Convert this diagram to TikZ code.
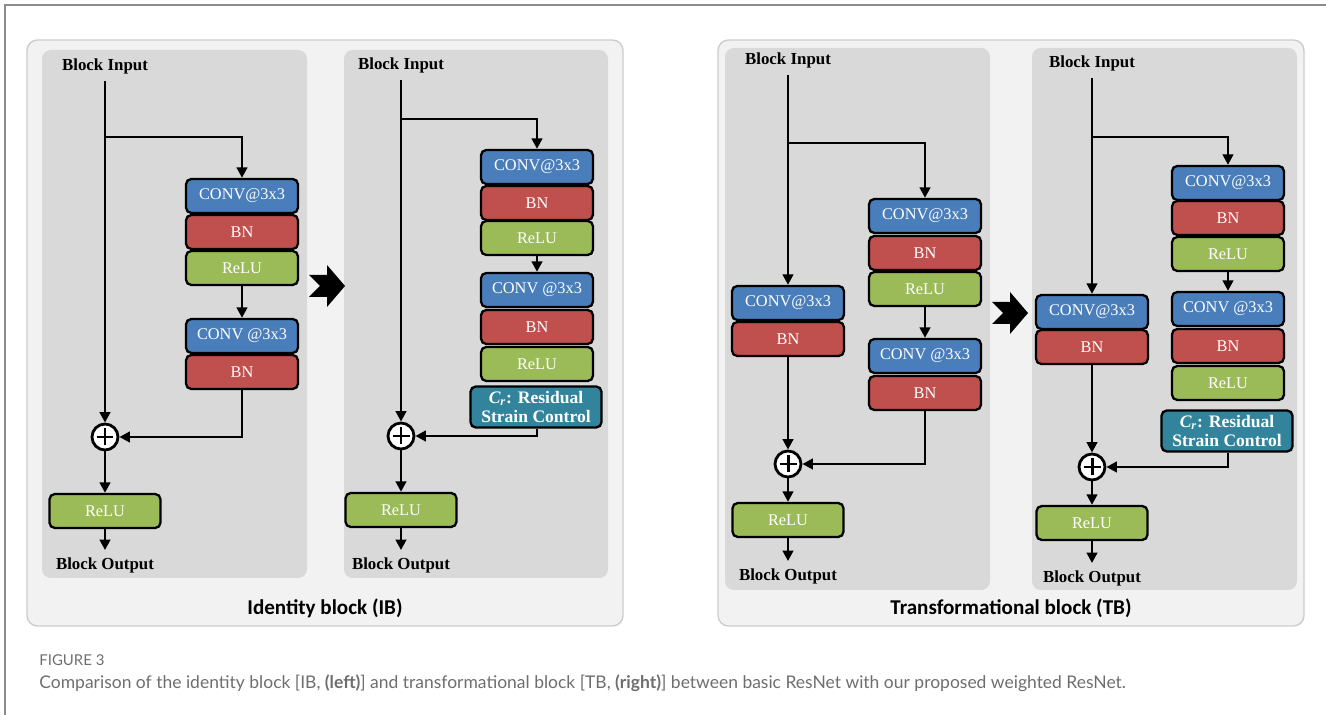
\documentclass[tikz,border=0pt]{standalone}
\usepackage{fontspec}
\setmainfont{Liberation Serif}
\newfontfamily\capfont{Lato}
\newfontfamily\titlefont{Carlito}
\usetikzlibrary{arrows.meta,positioning}
\definecolor{convblue}{HTML}{4A7EBB}
\definecolor{bnred}{HTML}{C0504D}
\definecolor{relugreen}{HTML}{9BBB59}
\definecolor{crteal}{HTML}{31849B}
\definecolor{outerbg}{HTML}{F2F2F2}
\definecolor{innerbg}{HTML}{D9D9D9}
\definecolor{capgray}{HTML}{6E6E6E}

\begin{document}
\begin{tikzpicture}[x=0.02cm, y=-0.02cm, >={Triangle[length=6pt,width=6pt]}, line width=1.6pt,
      outer/.style={draw=gray!40, line width=0.8pt, fill=outerbg, rounded corners=6pt},
      inner/.style={fill=innerbg, rounded corners=5pt},
      layer/.style={draw, line width=1.3pt, rounded corners=3pt, text=white, minimum width=2.24cm,
                    minimum height=0.68cm, inner sep=0pt, font=\fontsize{9.3}{11}\selectfont},
      conv/.style={layer, fill=convblue},
      bn/.style={layer, fill=bnred},
      relu/.style={layer, fill=relugreen},
      crbox/.style={layer, fill=crteal, minimum width=2.62cm, minimum height=0.82cm, align=center,
                    font=\bfseries\fontsize{10}{11}\selectfont},
      io/.style={font=\bfseries\fontsize{9.6}{11}\selectfont},
      add/.style={circle, draw, fill=white, minimum size=0.52cm, inner sep=0pt,
                  path picture={\draw[line width=1.7pt]
                    ([xshift=-0.17cm]path picture bounding box.center) -- ([xshift=0.17cm]path picture bounding box.center)
                    ([yshift=-0.17cm]path picture bounding box.center) -- ([yshift=0.17cm]path picture bounding box.center);}},
      title/.style={font=\titlefont\bfseries\fontsize{12}{14}\selectfont}]
  \useasboundingbox (0,0) rectangle (1326,715);
  % page frame
  \draw[gray!90, line width=1pt] (5,715) -- (5,5) -- (1326,5);
  % panels
  \path[outer] (27,40) rectangle (623,626);
  \path[outer] (718,40) rectangle (1304,626);
  \fill[inner] (42,50) rectangle (307,578);
  \fill[inner] (344,50) rectangle (608,578);
  \fill[inner] (725,48) rectangle (990,590);
  \fill[inner] (1032,48) rectangle (1297,590);
  \node[title] (ibt) at (325,608) {Identity block (IB)};
  \node[title] (tbt) at (1011,608) {Transformational block (TB)};

  % identity block, basic
  \node[io] (in1) at (105,66) {Block Input};
  \coordinate (s1) at (105,137);
  \node[conv] (c1a) at (242,196) {CONV@3x3};
  \node[bn]   (b1a) at (242,232) {BN};
  \node[relu] (r1a) at (242,268) {ReLU};
  \node[conv] (c1b) at (242,336) {CONV @3x3};
  \node[bn]   (b1b) at (242,372) {BN};
  \node[add]  (add1) at (105,437) {};
  \node[relu, minimum width=2.22cm] (o1) at (105,511) {ReLU};
  \node[io] (out1) at (105,565) {Block Output};
  \draw[->] (in1) -- (add1);
  \draw[->] (s1) -| (c1a);
  \draw[->] (r1a) -- (c1b);
  \draw[->] (b1b) |- (add1);
  \draw[->] (add1) -- (o1);
  \draw[->] (o1) -- (out1);

  % identity block, weighted
  \node[io] (in2) at (401,65) {Block Input};
  \coordinate (s2) at (401,119);
  \node[conv] (c2a) at (537,167) {CONV@3x3};
  \node[bn]   (b2a) at (537,203) {BN};
  \node[relu] (r2a) at (537,238) {ReLU};
  \node[conv] (c2b) at (537,290) {CONV @3x3};
  \node[bn]   (b2b) at (537,327) {BN};
  \node[relu] (r2b) at (537,364) {ReLU};
  \node[crbox] (cr2) at (536,407) {{\itshape C}\textsubscript{\itshape r}: Residual\\Strain Control};
  \node[add]  (add2) at (401,436) {};
  \node[relu, minimum width=2.22cm] (o2) at (401,510) {ReLU};
  \node[io] (out2) at (401,565) {Block Output};
  \draw[->] (in2) -- (add2);
  \draw[->] (s2) -| (c2a);
  \draw[->] (r2a) -- (c2b);
  \draw[->] (cr2.south -| c2a) |- (add2);
  \draw[->] (add2) -- (o2);
  \draw[->] (o2) -- (out2);

  % transformational block, basic
  \node[io] (in3) at (788,60) {Block Input};
  \coordinate (s3) at (788,143);
  \node[conv] (c3a) at (788,303) {CONV@3x3};
  \node[bn]   (b3a) at (788,339) {BN};
  \node[conv] (c3b) at (925,216) {CONV@3x3};
  \node[bn]   (b3b) at (925,253) {BN};
  \node[relu] (r3b) at (925,289) {ReLU};
  \node[conv] (c3c) at (925,356) {CONV @3x3};
  \node[bn]   (b3c) at (925,393) {BN};
  \node[add]  (add3) at (788,464) {};
  \node[relu, minimum width=2.22cm] (o3) at (788,520) {ReLU};
  \node[io] (out3) at (788,576) {Block Output};
  \draw[->] (in3) -- (c3a);
  \draw[->] (b3a) -- (add3);
  \draw[->] (s3) -| (c3b);
  \draw[->] (r3b) -- (c3c);
  \draw[->] (b3c) |- (add3);
  \draw[->] (add3) -- (o3);
  \draw[->] (o3) -- (out3);

  % transformational block, weighted
  \node[io] (in4) at (1092,63) {Block Input};
  \coordinate (s4) at (1092,137);
  \node[conv] (c4a) at (1092,312) {CONV@3x3};
  \node[bn]   (b4a) at (1092,347) {BN};
  \node[conv] (c4b) at (1228,183) {CONV@3x3};
  \node[bn]   (b4b) at (1228,218) {BN};
  \node[relu] (r4b) at (1228,254) {ReLU};
  \node[conv] (c4c) at (1228,309) {CONV @3x3};
  \node[bn]   (b4c) at (1228,346) {BN};
  \node[relu] (r4c) at (1228,383) {ReLU};
  \node[crbox] (cr4) at (1227,431) {{\itshape C}\textsubscript{\itshape r}: Residual\\Strain Control};
  \node[add]  (add4) at (1092,467) {};
  \node[relu, minimum width=2.22cm] (o4) at (1092,523) {ReLU};
  \node[io] (out4) at (1092,578) {Block Output};
  \draw[->] (in4) -- (c4a);
  \draw[->] (b4a) -- (add4);
  \draw[->] (s4) -| (c4b);
  \draw[->] (r4b) -- (c4c);
  \draw[->] (cr4.south -| c4b) |- (add4);
  \draw[->] (add4) -- (o4);
  \draw[->] (o4) -- (out4);

  % basic -> weighted
  \foreach \cx/\cy in {327/286, 1010/313}
    \fill[shift={(\cx,\cy)}] (-18,-11) -- (0,-11) -- (0,-21) -- (18,0) -- (0,21) -- (0,11) -- (-18,11) -- (-7,0) -- cycle;

  % caption
  \node[anchor=west, inner sep=0pt, text=capgray, font=\capfont\fontsize{8.5}{10}\selectfont] (fig) at (38,660) {FIGURE 3};
  \node[anchor=west, inner sep=0pt, text=capgray, font=\capfont\fontsize{9.95}{12}\selectfont] (cap) at (38,683)
    {Comparison of the identity block [IB, \textbf{(left)}] and transformational block [TB, \textbf{(right)}] between basic ResNet with our proposed weighted ResNet.};
\end{tikzpicture}
\end{document}
